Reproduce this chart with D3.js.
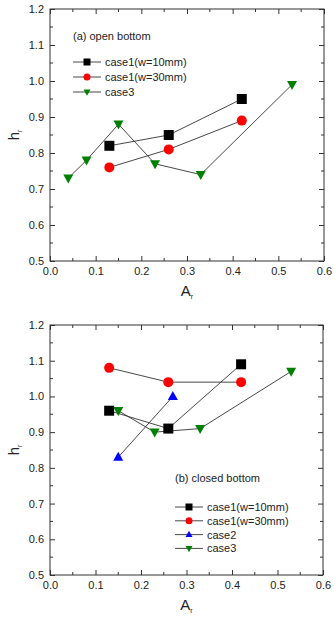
<!DOCTYPE html>
<html>
<head>
<meta charset="utf-8">
<script src="https://cdn.jsdelivr.net/npm/d3@7"></script>
<style>
  body { margin: 0; background: #fff; }
  svg { display: block; font-family: "Liberation Sans", Arial, sans-serif; }
</style>
</head>
<body>
<div id="chart"></div>
<script>
// panel (a) open bottom
var openW10 = [[0.13, 0.82], [0.26, 0.85], [0.42, 0.95]];
var openW30 = [[0.13, 0.76], [0.26, 0.81], [0.42, 0.89]];
var openCase3 = [[0.04, 0.73], [0.08, 0.78], [0.15, 0.88], [0.23, 0.77], [0.33, 0.74], [0.53, 0.99]];

// panel (b) closed bottom
var closedW10 = [[0.13, 0.96], [0.26, 0.91], [0.42, 1.09]];
var closedW30 = [[0.13, 1.08], [0.26, 1.04], [0.42, 1.04]];
var closedCase2 = [[0.15, 0.83], [0.27, 1.00]];
var closedCase3 = [[0.15, 0.96], [0.23, 0.90], [0.33, 0.91], [0.53, 1.07]];

var xTicks = [0.0, 0.1, 0.2, 0.3, 0.4, 0.5, 0.6];
var yTicks = [0.5, 0.6, 0.7, 0.8, 0.9, 1.0, 1.1, 1.2];

var svgWidth = 334, svgHeight = 617;

var svg = d3.select("#chart").append("svg")
  .attr("width", svgWidth).attr("height", svgHeight);

var seriesStyle = {
  w10: { label: "case1(w=10mm)", color: "#000000", shape: d3.symbolSquare },
  w30: { label: "case1(w=30mm)", color: "#ff0000", shape: d3.symbolCircle },
  c2: { label: "case2", color: "#0000ff", shape: "up" },
  c3: { label: "case3", color: "#008000", shape: "down" }
};

function markerPath(shape, s) {
  // s = approx full width
  if (shape === "up") {
    var h = s * 0.9;
    return `M0,${-h * 0.6}L${s / 2},${h * 0.4}L${-s / 2},${h * 0.4}Z`;
  }
  if (shape === "down") {
    var h2 = s * 0.9;
    return `M0,${h2 * 0.6}L${s / 2},${-h2 * 0.4}L${-s / 2},${-h2 * 0.4}Z`;
  }
  if (shape === d3.symbolSquare) return d3.symbol(d3.symbolSquare, s * s)();
  return d3.symbol(d3.symbolCircle, Math.PI * s * s / 4)();
}

function drawPanel(top, bottom, right, series, title, titlePos, legendPos) {
  var left = 50;
  var x = d3.scaleLinear().domain([0, 0.6]).range([left, right]);
  var y = d3.scaleLinear().domain([0.5, 1.2]).range([bottom, top]);
  var g = svg.append("g");

  // frame
  g.append("rect")
    .attr("x", left).attr("y", top)
    .attr("width", right - left).attr("height", bottom - top)
    .attr("fill", "none").attr("stroke", "#333").attr("stroke-width", 1);

  var minorX = d3.range(0.05, 0.6, 0.1);
  var minorY = d3.range(0.55, 1.2, 0.1);

  // bottom axis, ticks inward
  var bx = g.append("g").attr("transform", `translate(0,${bottom})`)
    .call(d3.axisBottom(x).tickValues(xTicks).tickSize(-5).tickPadding(6).tickFormat(d3.format(".1f")));
  bx.append("g").selectAll("line").data(minorX).join("line")
    .attr("x1", d => x(d)).attr("x2", d => x(d)).attr("y1", 0).attr("y2", -3);
  // top axis
  var tx = g.append("g").attr("transform", `translate(0,${top})`)
    .call(d3.axisTop(x).tickValues(xTicks).tickSize(-5).tickFormat(""));
  tx.append("g").selectAll("line").data(minorX).join("line")
    .attr("x1", d => x(d)).attr("x2", d => x(d)).attr("y1", 0).attr("y2", 3);
  // left axis
  var ly = g.append("g").attr("transform", `translate(${left},0)`)
    .call(d3.axisLeft(y).tickValues(yTicks).tickSize(-5).tickPadding(6).tickFormat(d3.format(".1f")));
  ly.append("g").selectAll("line").data(minorY).join("line")
    .attr("y1", d => y(d)).attr("y2", d => y(d)).attr("x1", 0).attr("x2", 3);
  // right axis
  var ry = g.append("g").attr("transform", `translate(${right},0)`)
    .call(d3.axisRight(y).tickValues(yTicks).tickSize(-5).tickFormat(""));
  ry.append("g").selectAll("line").data(minorY).join("line")
    .attr("y1", d => y(d)).attr("y2", d => y(d)).attr("x1", 0).attr("x2", -3);

  g.selectAll(".domain").remove();
  g.selectAll(".tick line").attr("stroke", "#333");
  g.selectAll("g > g > line").attr("stroke", "#333");
  g.selectAll(".tick text").attr("font-size", 11).attr("fill", "#222")
    .attr("font-family", "Liberation Sans, Arial, sans-serif");

  // axis titles
  var xt = g.append("text").attr("x", (left + right) / 2).attr("y", bottom + 35)
    .attr("text-anchor", "middle").attr("font-size", 15).attr("fill", "#222");
  xt.append("tspan").text("A");
  xt.append("tspan").attr("font-size", 7).attr("dy", 3).text("r");

  var yt = g.append("text")
    .attr("transform", `translate(19,${(top + bottom) / 2}) rotate(-90)`)
    .attr("text-anchor", "middle").attr("font-size", 15).attr("fill", "#222");
  yt.append("tspan").text("h");
  yt.append("tspan").attr("font-size", 7).attr("dy", 3).text("r");

  // lines and markers
  var line = d3.line().x(d => x(d[0])).y(d => y(d[1]));
  series.forEach(function(s) {
    g.append("path").datum(s.data)
      .attr("d", line).attr("fill", "none")
      .attr("stroke", "#333").attr("stroke-width", 0.9);
  });
  series.forEach(function(s) {
    var st = seriesStyle[s.key];
    g.selectAll(null).data(s.data).join("path")
      .attr("transform", d => `translate(${x(d[0])},${y(d[1])})`)
      .attr("d", markerPath(st.shape, 10))
      .attr("fill", st.color);
  });

  // title inside plot
  g.append("text").attr("x", titlePos[0]).attr("y", titlePos[1])
    .attr("font-size", 11).attr("fill", "#222").text(title);

  // legend
  series.forEach(function(s, i) {
    var st = seriesStyle[s.key];
    var ly0 = legendPos[1] + i * legendPos[2];
    var lx = legendPos[0];
    g.append("line").attr("x1", lx).attr("x2", lx + 28)
      .attr("y1", ly0).attr("y2", ly0).attr("stroke", "#333").attr("stroke-width", 0.9);
    g.append("path").attr("transform", `translate(${lx + 14},${ly0})`)
      .attr("d", markerPath(st.shape, 7)).attr("fill", st.color);
    g.append("text").attr("x", lx + 32).attr("y", ly0 + 4)
      .attr("font-size", 11).attr("fill", "#222").text(st.label);
  });
}

drawPanel(9, 261, 324, [
  { key: "w10", data: openW10 },
  { key: "w30", data: openW30 },
  { key: "c3", data: openCase3 }
], "(a) open bottom", [73, 40], [73, 62, 15]);

drawPanel(325, 575, 323, [
  { key: "w10", data: closedW10 },
  { key: "w30", data: closedW30 },
  { key: "c2", data: closedCase2 },
  { key: "c3", data: closedCase3 }
], "(b) closed bottom", [175, 482], [175, 507, 13.8]);
</script>
</body>
</html>
